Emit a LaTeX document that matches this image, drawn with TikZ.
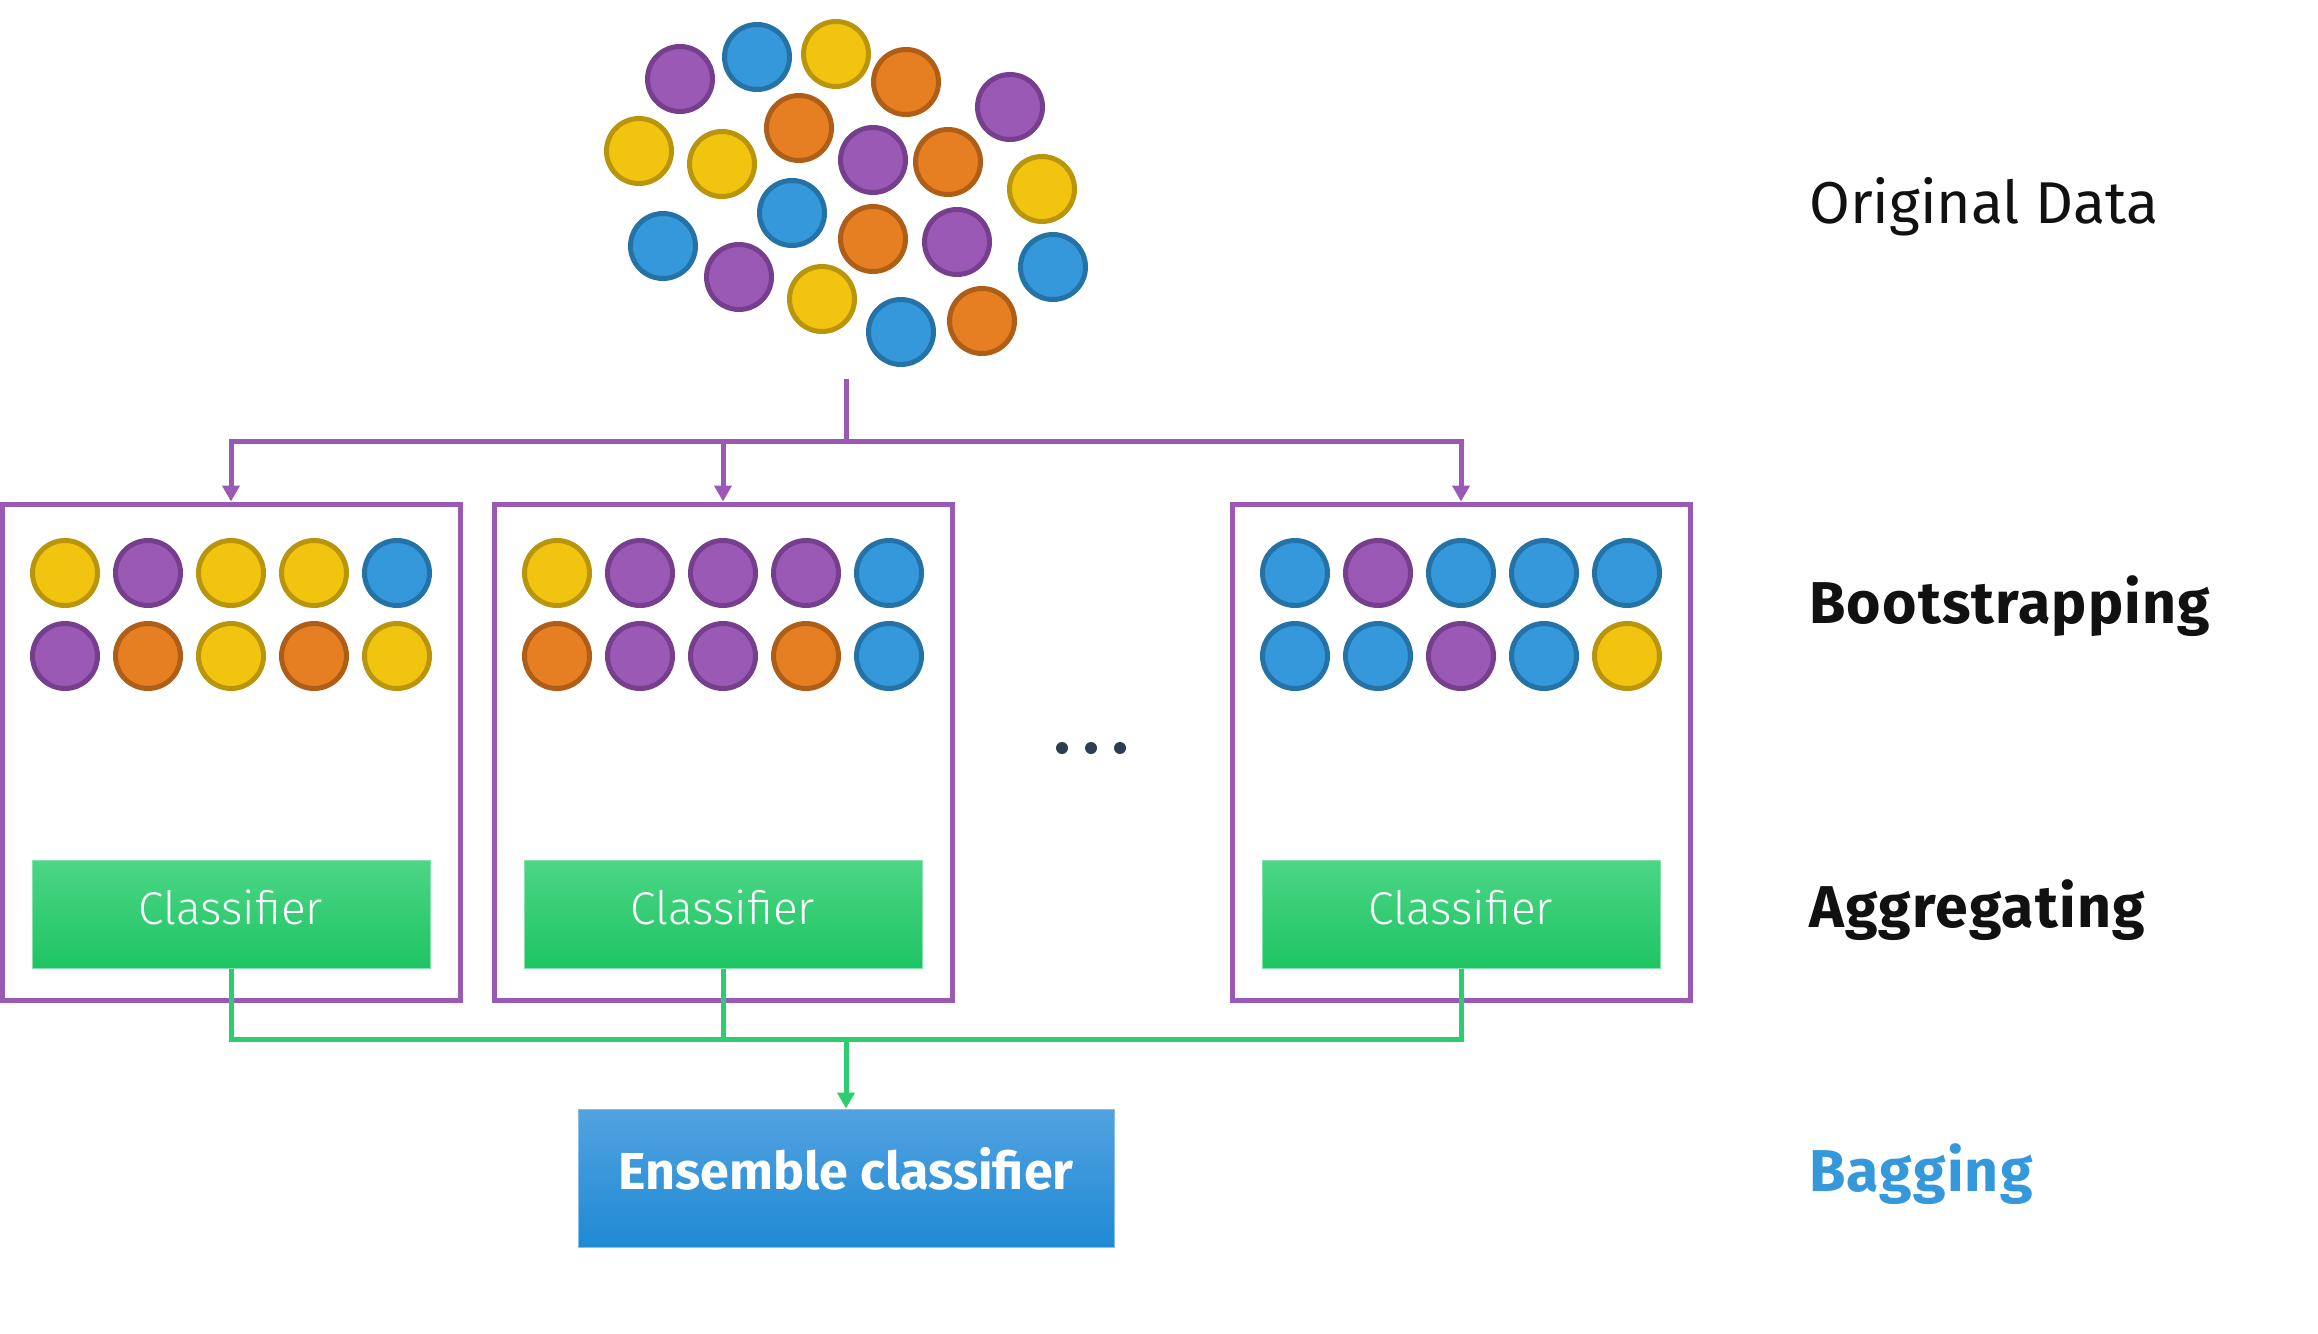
\documentclass[tikz,border=0pt]{standalone}
\usepackage{fontspec}
\setmainfont{Fira Sans}
\newfontfamily\lightfont{Fira Sans Light}
\usetikzlibrary{arrows.meta}
\definecolor{cpur}{HTML}{9B59B6}
\definecolor{cpurD}{HTML}{763F8E}
\definecolor{cblu}{HTML}{3498DB}
\definecolor{cbluD}{HTML}{2573A6}
\definecolor{cyel}{HTML}{F1C40F}
\definecolor{cyelD}{HTML}{B8950B}
\definecolor{cora}{HTML}{E67E22}
\definecolor{coraD}{HTML}{AF5E18}
\definecolor{cgrn}{HTML}{2ECC71}
\definecolor{cgrnT}{HTML}{4CD685}
\definecolor{cgrnB}{HTML}{1EC463}
\definecolor{censT}{HTML}{52A2E0}
\definecolor{censB}{HTML}{1F8AD4}
\definecolor{cdots}{HTML}{2C3E50}
\definecolor{ctext}{HTML}{111111}
\begin{document}
\begin{tikzpicture}[x=1pt,y=-1pt,
  ball/.style={circle,inner sep=0pt,minimum size=65pt,line width=5pt},
  bP/.style={ball,fill=cpur,draw=cpurD},
  bB/.style={ball,fill=cblu,draw=cbluD},
  bY/.style={ball,fill=cyel,draw=cyelD},
  bO/.style={ball,fill=cora,draw=coraD},
  bagbox/.style={draw=cpur,line width=5pt,minimum width=458pt,minimum height=496pt,inner sep=0pt},
  clsbox/.style={draw=cgrnT!70!white,line width=1pt,top color=cgrnT,bottom color=cgrnB,
     minimum width=398pt,minimum height=108pt,inner sep=0pt,text=white,
     font=\lightfont\fontsize{46}{50}\selectfont,text height=32pt,text depth=12pt},
  ensbox/.style={draw=censT!70!white,line width=1pt,top color=censT,bottom color=censB,
     minimum width=536pt,minimum height=138pt,inner sep=0pt,text=white,
     font=\bfseries\fontsize{52}{55}\selectfont,text height=40pt,text depth=18pt},
  pline/.style={draw=cpur,line width=5pt},
  gline/.style={draw=cgrn,line width=5pt},
  ptip/.style={-{Triangle[width=17pt,length=16pt]}},
  lbl/.style={anchor=base west,inner sep=0pt,text=ctext},
  bold/.style={font=\bfseries\fontsize{59}{60}\selectfont\addfontfeatures{LetterSpace=2}},
  dot/.style={circle,fill=cdots,inner sep=0pt,minimum size=12pt}
]
\useasboundingbox[fill=white] (0,0) rectangle (2318,1333);

% original data cloud
\node[bP] (c1) at (680,79) {};
\node[bB] (c2) at (757,57) {};
\node[bY] (c3) at (836,54) {};
\node[bO] (c4) at (906,82) {};
\node[bP] (c5) at (1010,107) {};
\node[bY] (c6) at (639,151) {};
\node[bY] (c7) at (722,164) {};
\node[bO] (c8) at (799,128) {};
\node[bP] (c9) at (873,160) {};
\node[bO] (c10) at (948,162) {};
\node[bY] (c11) at (1042,189) {};
\node[bB] (c12) at (663,246) {};
\node[bB] (c13) at (792,213) {};
\node[bO] (c14) at (873,239) {};
\node[bP] (c15) at (957,242) {};
\node[bB] (c16) at (1053,267) {};
\node[bP] (c17) at (739,277) {};
\node[bY] (c18) at (822,299) {};
\node[bB] (c19) at (901,332) {};
\node[bO] (c20) at (982,321) {};

% bootstrap boxes
\node[bagbox] (box1) at (231,752) {};
\node[bagbox] (box2) at (723,752) {};
\node[bagbox] (box3) at (1461,752) {};

% samples
\foreach \k/\s in {1/bY,2/bP,3/bY,4/bY,5/bB}
  \node[\s] (a1\k) at ({231+83*(\k-3)},573) {};
\foreach \k/\s in {1/bP,2/bO,3/bY,4/bO,5/bY}
  \node[\s] (a2\k) at ({231+83*(\k-3)},656) {};
\foreach \k/\s in {1/bY,2/bP,3/bP,4/bP,5/bB}
  \node[\s] (b1\k) at ({723+83*(\k-3)},573) {};
\foreach \k/\s in {1/bO,2/bP,3/bP,4/bO,5/bB}
  \node[\s] (b2\k) at ({723+83*(\k-3)},656) {};
\foreach \k/\s in {1/bB,2/bP,3/bB,4/bB,5/bB}
  \node[\s] (d1\k) at ({1461+83*(\k-3)},573) {};
\foreach \k/\s in {1/bB,2/bB,3/bP,4/bB,5/bY}
  \node[\s] (d2\k) at ({1461+83*(\k-3)},656) {};

% dots
\node[dot] (dt1) at (1062,748) {};
\node[dot] (dt2) at (1091,748) {};
\node[dot] (dt3) at (1120,748) {};

% classifiers
\node[clsbox] (cls1) at (231,914) {Classifier};
\node[clsbox] (cls2) at (723,914) {Classifier};
\node[clsbox] (cls3) at (1461,914) {Classifier};

% ensemble
\node[ensbox] (ens) at (846,1178) {Ensemble classifier};

% purple connectors
\coordinate (ptop) at (846,379);
\coordinate (pmid) at (846,441);
\draw[pline] (ptop) -- (pmid);
\draw[pline,ptip] (pmid) -| (box1.north);
\draw[pline,ptip] (pmid) -| (box2.north);
\draw[pline,ptip] (pmid) -| (box3.north);

% green connectors
\coordinate (gmid) at (846,1039);
\draw[gline] (cls1.south) |- (gmid);
\draw[gline] (cls3.south) |- (gmid);
\draw[gline] (cls2.south) -- (cls2.south |- gmid);
\draw[gline,ptip] (gmid) -- (ens.north);

% labels
\node[lbl,font=\fontsize{59}{60}\selectfont] (l1) at (1809,223) {Original Data};
\node[lbl,bold] (l2) at (1809,623) {Bootstrapping};
\node[lbl,bold] (l3) at (1809,927) {Aggregating};
\node[lbl,bold,text=cblu] (l4) at (1809,1191) {Bagging};
\end{tikzpicture}
\end{document}
